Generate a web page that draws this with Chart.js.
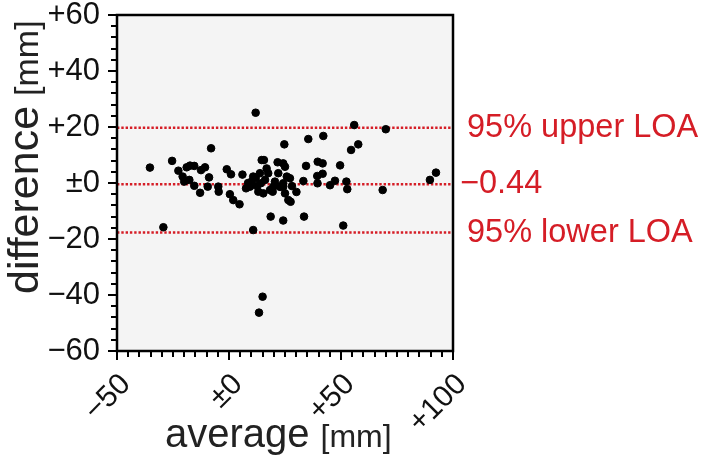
<!DOCTYPE html>
<html>
<head>
<meta charset="utf-8">
<script src="https://cdn.jsdelivr.net/npm/chart.js@4"></script>
<style>
html, body { margin: 0; padding: 0; background: #fff; }
#wrap { width: 702px; height: 457px; position: relative; }
</style>
</head>
<body>
<div id="wrap"><canvas id="bland"></canvas></div>
<script>
// average of the two measurements [mm]
var avgVals = [
  -35.3, -29.3, -25.4, -22.6, -20.7, -20.0, -18.9, -17.4, -15.5, -17.7,
  -15.5, -12.9, -12.5, -10.7, -8.9, -9.5, -8.0, -4.8, -4.6, -1.0,
  0.9, 0.4, 1.9, 4.7, 6.0, 7.6, 9.4, 10.1, 11.9, 10.8,
  10.8, 11.9, 14.6, 15.6, 13.8, 14.2, 16.8, 17.5, 13.1, 15.3,
  18.6, 18.3, 19.8, 19.5, 20.5, 21.7, 24.2, 25.0, 22.0, 24.2,
  25.8, 27.2, 25.0, 26.5, 27.5, 24.2, 24.7, 24.2, 30.1, 33.2,
  34.4, 33.5, 35.4, 39.6, 41.8, 39.4, 41.8, 39.5, 42.1, 45.1,
  47.3, 49.6, 52.4, 52.8, 51.0, 54.5, 57.7, 55.9, 70.0, 68.6,
  89.7, 92.4, 15.0, 13.4, 8.5, 12.5, 16.1, 22.8, 28.1
];
// difference between the two measurements [mm]
var diffVals = [
  5.5, -15.8, 7.9, 4.4, 2.3, 0.5, 5.6, 6.2, 6.1, 1.1,
  -1.0, -3.5, 4.6, 5.6, 2.0, -1.3, 12.4, -1.3, -3.1, 4.9,
  3.1, -4.0, -6.1, -7.6, 3.0, -1.9, -1.3, 0.5, 25.1, -16.8,
  2.3, 1.8, 8.2, 8.2, 3.5, -0.1, 5.2, 3.5, -3.1, -3.7,
  -12.0, -2.5, -1.3, -3.1, 0.5, 7.4, 7.0, 5.8, 3.5, -0.1,
  2.3, 1.7, -3.7, -6.1, -6.7, -1.3, 13.8, -13.4, -3.2, 0.7,
  6.1, -12.0, 15.7, 7.6, 7.0, 2.5, 3.3, -0.1, 16.8, -0.8,
  0.8, 6.3, 0.5, -2.2, -15.2, 11.8, 13.8, 20.7, 19.2, -2.5,
  1.1, 3.7, -40.6, -46.3, 0.0, -1.1, 1.1, -1.4, -1.1
];

var meanDiff = -0.44;
var upperLOA = 19.7;
var lowerLOA = -17.7;
var loaLabels = ["95% upper LOA", "\u22120.44", "95% lower LOA"];

var xTickVals = [-50, 0, 50, 100];
var xTickLabels = ["\u221250", "\u00b10", "+50", "+100"];
var yTickVals = [-60, -40, -20, 0, 20, 40, 60];
var yTickLabels = ["\u221260", "\u221240", "\u221220", "\u00b10", "+20", "+40", "+60"];

var FONT = "'Liberation Sans', Arial, Helvetica, sans-serif";
var RED = "#d51d26";

var points = avgVals.map(function(a, i){ return {x: a, y: diffVals[i]}; });

function hline(v){
  return [{x: xTickVals[0], y: v}, {x: xTickVals[xTickVals.length-1], y: v}];
}
function lineSet(v){
  return {
    type: 'line',
    data: hline(v),
    borderColor: RED,
    borderWidth: 2.5,
    borderDash: [2.4, 1.9],
    pointRadius: 0,
    fill: false,
    order: 2
  };
}

var decor = {
  id: 'decor',
  beforeDraw: function(chart){
    var ctx = chart.ctx, a = chart.chartArea;
    ctx.save();
    ctx.fillStyle = "#f4f4f4";
    ctx.fillRect(a.left, a.top, a.right - a.left, a.bottom - a.top);
    ctx.restore();
  },
  afterDraw: function(chart){
    var ctx = chart.ctx, a = chart.chartArea;
    var xs = chart.scales.x, ys = chart.scales.y;
    ctx.save();
    // frame
    ctx.strokeStyle = "#000";
    ctx.lineWidth = 2.5;
    ctx.strokeRect(a.left, a.top, a.right - a.left, a.bottom - a.top);
    // ticks
    ctx.lineWidth = 2;
    ctx.beginPath();
    var v, p, len;
    for (v = -50; v <= 100; v += 5) {
      p = Math.round(xs.getPixelForValue(v));
      len = (v % 50 === 0) ? 9 : 6;
      ctx.moveTo(p, a.bottom);
      ctx.lineTo(p, a.bottom + len);
    }
    for (v = -60; v <= 60; v += 4) {
      p = Math.round(ys.getPixelForValue(v));
      len = (v % 20 === 0) ? 9 : 6;
      ctx.moveTo(a.left, p);
      ctx.lineTo(a.left - len, p);
    }
    ctx.stroke();

    // LOA labels
    ctx.fillStyle = RED;
    ctx.font = "32.5px " + FONT;
    ctx.textBaseline = "middle";
    ctx.textAlign = "left";
    ctx.fillText(loaLabels[0], a.right + 14, ys.getPixelForValue(upperLOA));
    ctx.fillText(loaLabels[1], a.right + 7, ys.getPixelForValue(meanDiff));
    ctx.fillText(loaLabels[2], a.right + 14, ys.getPixelForValue(lowerLOA));

    // axis titles
    ctx.fillStyle = "#222";
    ctx.textBaseline = "alphabetic";
    ctx.font = "40px " + FONT;
    var w1 = ctx.measureText("average").width;
    ctx.fillText("average", 165, 447);
    ctx.font = "32px " + FONT;
    ctx.fillText("[mm]", 165 + w1 + 11, 447);

    ctx.translate(38, 294);
    ctx.rotate(-Math.PI / 2);
    ctx.font = "43px " + FONT;
    var w2 = ctx.measureText("difference").width;
    ctx.fillText("difference", 0, 0);
    ctx.font = "34px " + FONT;
    ctx.fillText("[mm]", w2 + 10, 0);
    ctx.restore();
  }
};

new Chart(document.getElementById("bland"), {
  type: 'scatter',
  data: {
    datasets: [
      {
        data: points,
        backgroundColor: "#000",
        borderColor: "#000",
        pointRadius: 3.8,
        pointHoverRadius: 3.8,
        order: 1
      },
      lineSet(upperLOA),
      lineSet(meanDiff),
      lineSet(lowerLOA)
    ]
  },
  options: {
    responsive: true,
    maintainAspectRatio: false,
    animation: false,
    events: [],
    layout: { padding: { left: 0, right: 249, top: 15, bottom: 0 } },
    plugins: { legend: { display: false }, tooltip: { enabled: false } },
    scales: {
      x: {
        type: 'linear',
        min: -50, max: 100,
        grid: { display: false, drawTicks: false },
        border: { display: false },
        afterFit: function(s){
          s.height = 106;
          s.paddingLeft = 0; s.paddingRight = 0;
          s.paddingTop = 0; s.paddingBottom = 0;
        },
        ticks: {
          stepSize: 50,
          autoSkip: false,
          minRotation: 45, maxRotation: 45,
          padding: 16,
          labelOffset: 9,
          color: "#111",
          font: { family: FONT, size: 30 },
          callback: function(val){
            var i = xTickVals.indexOf(val);
            return i < 0 ? "" : xTickLabels[i];
          }
        }
      },
      y: {
        type: 'linear',
        min: -60, max: 60,
        grid: { display: false, drawTicks: false },
        border: { display: false },
        afterFit: function(s){
          s.width = 117;
          s.paddingTop = 0; s.paddingBottom = 0;
          s.paddingLeft = 0; s.paddingRight = 0;
        },
        ticks: {
          stepSize: 20,
          padding: 17,
          color: "#111",
          font: { family: FONT, size: 31 },
          callback: function(val){
            var i = yTickVals.indexOf(val);
            return i < 0 ? "" : yTickLabels[i];
          }
        }
      }
    }
  },
  plugins: [decor]
});
</script>
</body>
</html>
